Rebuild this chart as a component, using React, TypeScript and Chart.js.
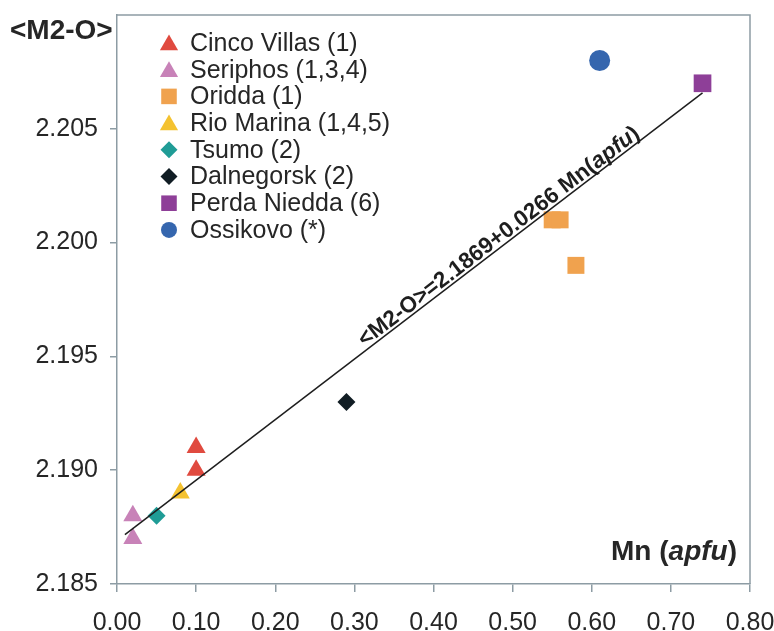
import React, { useEffect, useRef } from "react";
import { Chart, registerables } from "chart.js";

Chart.register(...registerables);

// ---- data ----
const seriesNames = [
  "Cinco Villas (1)",
  "Seriphos (1,3,4)",
  "Oridda (1)",
  "Rio Marina (1,4,5)",
  "Tsumo (2)",
  "Dalnegorsk (2)",
  "Perda Niedda (6)",
  "Ossikovo (*)",
];
const cincoX = [0.1, 0.1];
const cincoY = [2.191, 2.19];
const seriphosX = [0.02, 0.02];
const seriphosY = [2.188, 2.187];
const oriddaX = [0.55, 0.56, 0.58];
const oriddaY = [2.201, 2.201, 2.199];
const rioX = [0.08];
const rioY = [2.189];
const tsumoX = [0.05];
const tsumoY = [2.188];
const dalX = [0.29];
const dalY = [2.193];
const perdaX = [0.74];
const perdaY = [2.207];
const ossX = [0.61];
const ossY = [2.208];
const trendX = [0.01, 0.74];
const trendY = [2.18717, 2.20658];
const xTicks = [0, 0.1, 0.2, 0.3, 0.4, 0.5, 0.6, 0.7, 0.8];
const yTicks = [2.185, 2.19, 2.195, 2.2, 2.205];

const FONT = "'Liberation Sans', Arial, Helvetica, sans-serif";
const AXIS = "#8d9ca4";
const TEXT = "#262626";

const styles = [
  { color: "#e04a3f", shape: "triangle", r: 11 },
  { color: "#c882b8", shape: "triangle", r: 11 },
  { color: "#f0a24e", shape: "rect", r: 12 },
  { color: "#f4c230", shape: "triangle", r: 11 },
  { color: "#1f9c96", shape: "rectRot", r: 9 },
  { color: "#111d24", shape: "rectRot", r: 9 },
  { color: "#8e3f98", shape: "rect", r: 12.5 },
  { color: "#3566ae", shape: "circle", r: 10.5 },
];

const pts = (xs: number[], ys: number[]) => xs.map((x, i) => ({ x, y: ys[i] }));
const seriesData = [
  pts(cincoX, cincoY),
  pts(seriphosX, seriphosY),
  pts(oriddaX, oriddaY),
  pts(rioX, rioY),
  pts(tsumoX, tsumoY),
  pts(dalX, dalY),
  pts(perdaX, perdaY),
  pts(ossX, ossY),
];

function drawShape(ctx: CanvasRenderingContext2D, shape: string, x: number, y: number, r: number) {
  ctx.beginPath();
  if (shape === "triangle") {
    let rad = 0;
    ctx.moveTo(x + Math.sin(rad) * r, y - Math.cos(rad) * r);
    rad += (2 * Math.PI) / 3;
    ctx.lineTo(x + Math.sin(rad) * r, y - Math.cos(rad) * r);
    rad += (2 * Math.PI) / 3;
    ctx.lineTo(x + Math.sin(rad) * r, y - Math.cos(rad) * r);
    ctx.closePath();
  } else if (shape === "rect") {
    const s = Math.SQRT1_2 * r;
    ctx.rect(x - s, y - s, 2 * s, 2 * s);
  } else if (shape === "rectRot") {
    ctx.moveTo(x - r, y);
    ctx.lineTo(x, y - r);
    ctx.lineTo(x + r, y);
    ctx.lineTo(x, y + r);
    ctx.closePath();
  } else {
    ctx.arc(x, y, r, 0, Math.PI * 2);
  }
  ctx.fill();
}

const overlay = {
  id: "overlay",
  afterDraw(chart: any) {
    const ctx: CanvasRenderingContext2D = chart.ctx;
    const ca = chart.chartArea;
    ctx.save();
    // box border
    ctx.strokeStyle = AXIS;
    ctx.lineWidth = 1.5;
    ctx.beginPath();
    ctx.moveTo(ca.left, ca.top);
    ctx.lineTo(ca.right, ca.top);
    ctx.lineTo(ca.right, ca.bottom);
    ctx.stroke();

    // legend
    const legX = ca.left + 52;
    const textX = ca.left + 73;
    const legY0 = ca.top + 28;
    const step = 26.7;
    ctx.font = `25px ${FONT}`;
    ctx.textBaseline = "middle";
    ctx.textAlign = "left";
    seriesNames.forEach((name, i) => {
      const st = styles[i];
      const y = legY0 + i * step;
      ctx.fillStyle = st.color;
      const lr = st.shape === "triangle" ? 10.5 : st.shape === "rect" ? 11 : st.shape === "rectRot" ? 8.5 : 8;
      drawShape(ctx, st.shape, legX, st.shape === "triangle" ? y + 2 : y, lr);
      ctx.fillStyle = TEXT;
      ctx.fillText(name, textX, y + 1);
    });

    // y axis title
    ctx.font = `bold 28px ${FONT}`;
    ctx.fillStyle = TEXT;
    ctx.textAlign = "left";
    ctx.textBaseline = "alphabetic";
    ctx.fillText("<M2-O>", ca.left - 107, ca.top + 24);

    // x axis title  "Mn (apfu)"
    const boldF = `bold 28px ${FONT}`;
    const italF = `italic bold 28px ${FONT}`;
    const parts1 = [
      { t: "Mn (", f: boldF },
      { t: "apfu", f: italF },
      { t: ")", f: boldF },
    ];
    let tw = 0;
    parts1.forEach((p) => { ctx.font = p.f; tw += ctx.measureText(p.t).width; });
    let px = ca.right - 13 - tw;
    const py = ca.bottom - 24;
    parts1.forEach((p) => { ctx.font = p.f; ctx.fillText(p.t, px, py); px += ctx.measureText(p.t).width; });

    // regression label along the line
    const xs = chart.scales.x, ys = chart.scales.y;
    const x0 = xs.getPixelForValue(trendX[0]), y0 = ys.getPixelForValue(trendY[0]);
    const x1 = xs.getPixelForValue(trendX[1]), y1 = ys.getPixelForValue(trendY[1]);
    const ang = Math.atan2(y1 - y0, x1 - x0);
    const labelMn = 0.49;
    const t = (labelMn - trendX[0]) / (trendX[1] - trendX[0]);
    const cx = x0 + t * (x1 - x0), cy = y0 + t * (y1 - y0);
    const lb = `bold 22.5px ${FONT}`;
    const li = `italic bold 22.5px ${FONT}`;
    const parts2 = [
      { t: "<M2-O>=2.1869+0.0266 Mn(", f: lb },
      { t: "apfu", f: li },
      { t: ")", f: lb },
    ];
    let w2 = 0;
    parts2.forEach((p) => { ctx.font = p.f; w2 += ctx.measureText(p.t).width; });
    ctx.translate(cx, cy);
    ctx.rotate(ang);
    let qx = -w2 / 2;
    ctx.fillStyle = "#1e1e1e";
    parts2.forEach((p) => { ctx.font = p.f; ctx.fillText(p.t, qx, -3); qx += ctx.measureText(p.t).width; });
    ctx.restore();
  },
};

export default function App() {
  const ref = useRef<HTMLCanvasElement | null>(null);
  useEffect(() => {
    document.body.style.margin = "0";
    document.body.style.overflow = "hidden";
    const datasets: any[] = [
      {
        label: "trend",
        data: pts(trendX, trendY),
        showLine: true,
        borderColor: "#1e1e1e",
        borderWidth: 1.5,
        pointRadius: 0,
        pointHoverRadius: 0,
        fill: false,
      },
      ...seriesData.map((d, i) => ({
        label: seriesNames[i],
        data: d,
        pointStyle: styles[i].shape,
        pointRadius: styles[i].r,
        pointHoverRadius: styles[i].r,
        backgroundColor: styles[i].color,
        borderColor: styles[i].color,
        borderWidth: 0,
        showLine: false,
      })),
    ];
    const chart = new Chart(ref.current!, {
      type: "scatter",
      data: { datasets },
      plugins: [overlay],
      options: {
        animation: false,
        responsive: true,
        maintainAspectRatio: false,
        layout: { padding: { left: 8, top: 15, right: 24, bottom: 0 } },
        plugins: { legend: { display: false }, tooltip: { enabled: false } },
        scales: {
          x: {
            type: "linear",
            min: 0,
            max: 0.8,
            afterBuildTicks: (s: any) => { s.ticks = xTicks.map((v) => ({ value: v })); },
            afterFit: (s: any) => { s.height = 47; s.paddingLeft = 0; s.paddingRight = 0; },
            ticks: {
              font: { family: FONT, size: 25 },
              color: TEXT,
              padding: 16,
              maxRotation: 0,
              autoSkip: false,
              callback: (v: any) => Number(v).toFixed(2),
            },
            grid: { drawOnChartArea: false, drawTicks: true, tickLength: 8, color: AXIS, lineWidth: 1.5 },
            border: { display: true, color: AXIS, width: 1.5 },
          },
          y: {
            type: "linear",
            min: 2.185,
            max: 2.21,
            afterBuildTicks: (s: any) => { s.ticks = yTicks.map((v) => ({ value: v })); },
            afterFit: (s: any) => { s.width = 109; s.paddingTop = 0; s.paddingBottom = 0; },
            ticks: {
              font: { family: FONT, size: 25 },
              color: TEXT,
              padding: 12,
              autoSkip: false,
              callback: (v: any) => Number(v).toFixed(3),
            },
            grid: { drawOnChartArea: false, drawTicks: true, tickLength: 7, color: AXIS, lineWidth: 1.5 },
            border: { display: true, color: AXIS, width: 1.5 },
          },
        },
      },
    });
    return () => chart.destroy();
  }, []);
  return (
    <div style={{ width: 774, height: 631, position: "relative", background: "#fff" }}>
      <canvas ref={ref} />
    </div>
  );
}
